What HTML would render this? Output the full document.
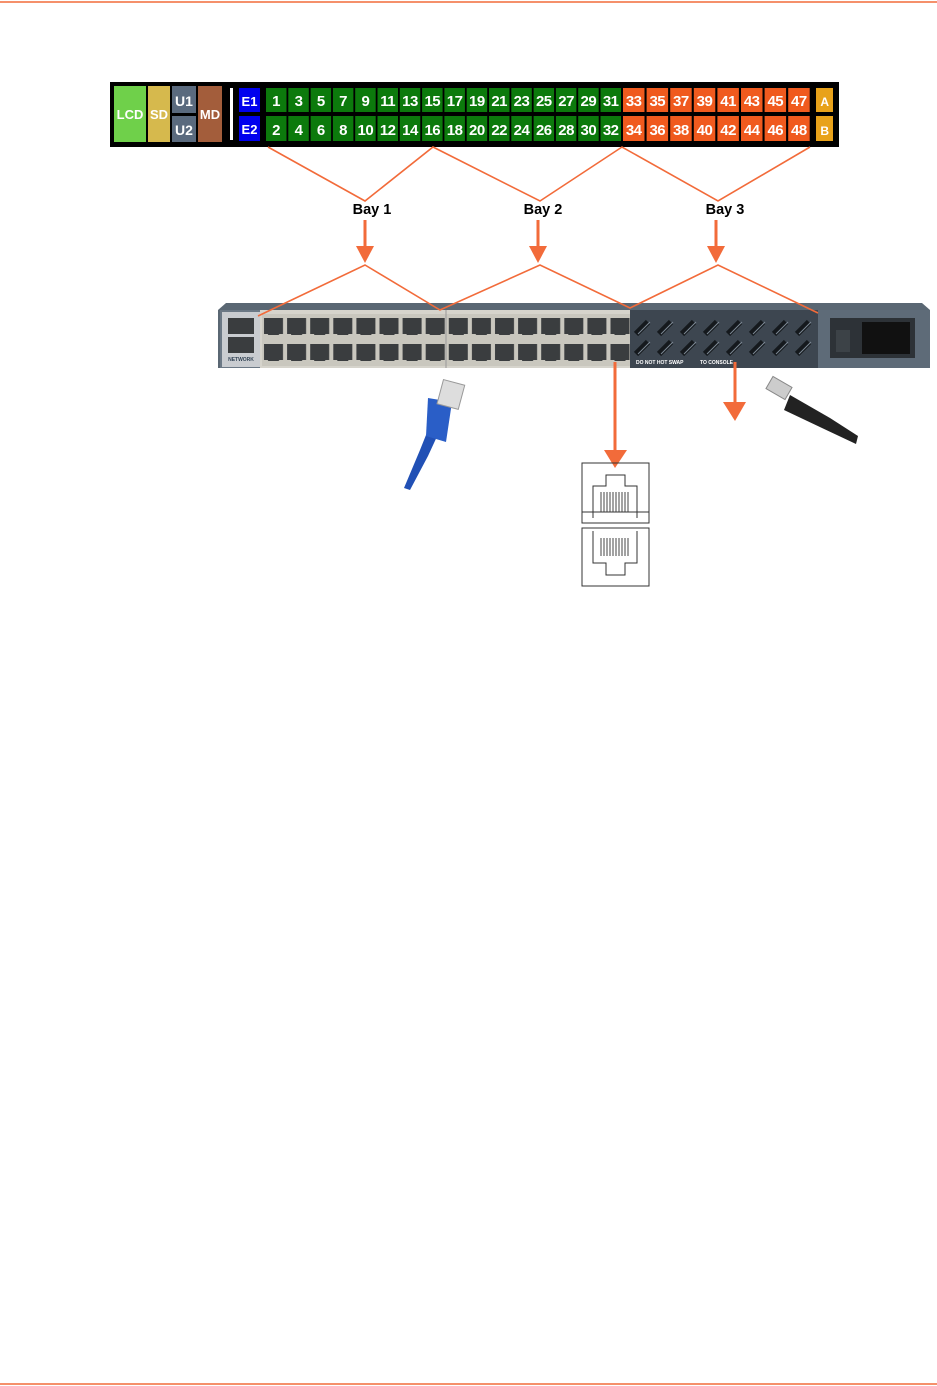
<!DOCTYPE html>
<html><head><meta charset="utf-8"><style>
html,body{margin:0;padding:0;background:#fff;}
svg{display:block;}
text{font-family:"Liberation Sans",sans-serif;font-weight:bold;}
</style></head><body>
<svg width="937" height="1386" viewBox="0 0 937 1386" xmlns="http://www.w3.org/2000/svg">
<defs>
<pattern id="port" x="262" y="314" width="23.1" height="26" patternUnits="userSpaceOnUse">
<rect x="0" y="0" width="23.1" height="26" fill="#c9c7be"/>
<rect x="2" y="4" width="19" height="16" fill="#3a3d3f"/>
<rect x="6" y="18" width="11" height="3" fill="#3a3d3f"/>
</pattern>
<pattern id="vent" x="632" y="318" width="23" height="20" patternUnits="userSpaceOnUse">
<rect width="23" height="20" fill="#3d4650"/>
<path d="M4 16 L16 4" stroke="#15191d" stroke-width="6"/>
<path d="M6 16 L18 4" stroke="#7d8a96" stroke-width="1"/>
</pattern>
</defs>
<line x1="0" y1="2" x2="937" y2="2" stroke="#f26b3a" stroke-width="1.5"/>
<line x1="0" y1="1384" x2="937" y2="1384" stroke="#f26b3a" stroke-width="1.5"/>

<rect x="110" y="82" width="729" height="65" fill="#000"/>
<rect x="114" y="86" width="32" height="56" fill="#6fd04a"/>
<text x="130" y="119" fill="#fff" font-size="13" text-anchor="middle">LCD</text>
<rect x="148" y="86" width="22" height="56" fill="#d6b94d"/>
<text x="159" y="119" fill="#fff" font-size="13" text-anchor="middle">SD</text>
<rect x="172" y="86" width="24" height="27" fill="#5a6a7e"/>
<text x="184" y="106" fill="#fff" font-size="14" text-anchor="middle">U1</text>
<rect x="172" y="116" width="24" height="26" fill="#5a6a7e"/>
<text x="184" y="135" fill="#fff" font-size="14" text-anchor="middle">U2</text>
<rect x="198" y="86" width="24" height="56" fill="#a35d3b"/>
<text x="210" y="119" fill="#fff" font-size="13" text-anchor="middle">MD</text>
<rect x="230" y="88" width="3" height="52" fill="#fff"/>
<rect x="239" y="88" width="21" height="24" fill="#0000ee"/>
<text x="249.5" y="106" fill="#fff" font-size="13" text-anchor="middle">E1</text>
<rect x="239" y="116" width="21" height="25" fill="#0000ee"/>
<text x="249.5" y="134" fill="#fff" font-size="13" text-anchor="middle">E2</text>
<g fill="#0c7a0c">
<rect x="266" y="88" width="20.5" height="24"/><rect x="288.3" y="88" width="20.5" height="24"/><rect x="310.6" y="88" width="20.5" height="24"/><rect x="332.9" y="88" width="20.5" height="24"/><rect x="355.2" y="88" width="20.5" height="24"/><rect x="377.5" y="88" width="20.5" height="24"/><rect x="399.8" y="88" width="20.5" height="24"/><rect x="422.1" y="88" width="20.5" height="24"/><rect x="444.4" y="88" width="20.5" height="24"/><rect x="466.7" y="88" width="20.5" height="24"/><rect x="489" y="88" width="20.5" height="24"/><rect x="511.3" y="88" width="20.5" height="24"/><rect x="533.6" y="88" width="20.5" height="24"/><rect x="555.9" y="88" width="20.5" height="24"/><rect x="578.2" y="88" width="20.5" height="24"/><rect x="600.5" y="88" width="20.5" height="24"/>
<rect x="266" y="116" width="20.5" height="25"/><rect x="288.3" y="116" width="20.5" height="25"/><rect x="310.6" y="116" width="20.5" height="25"/><rect x="332.9" y="116" width="20.5" height="25"/><rect x="355.2" y="116" width="20.5" height="25"/><rect x="377.5" y="116" width="20.5" height="25"/><rect x="399.8" y="116" width="20.5" height="25"/><rect x="422.1" y="116" width="20.5" height="25"/><rect x="444.4" y="116" width="20.5" height="25"/><rect x="466.7" y="116" width="20.5" height="25"/><rect x="489" y="116" width="20.5" height="25"/><rect x="511.3" y="116" width="20.5" height="25"/><rect x="533.6" y="116" width="20.5" height="25"/><rect x="555.9" y="116" width="20.5" height="25"/><rect x="578.2" y="116" width="20.5" height="25"/><rect x="600.5" y="116" width="20.5" height="25"/>
</g>
<g fill="#f05a1e">
<rect x="623" y="88" width="21.5" height="24"/><rect x="646.6" y="88" width="21.5" height="24"/><rect x="670.2" y="88" width="21.5" height="24"/><rect x="693.8" y="88" width="21.5" height="24"/><rect x="717.4" y="88" width="21.5" height="24"/><rect x="741" y="88" width="21.5" height="24"/><rect x="764.6" y="88" width="21.5" height="24"/><rect x="788.2" y="88" width="21.5" height="24"/>
<rect x="623" y="116" width="21.5" height="25"/><rect x="646.6" y="116" width="21.5" height="25"/><rect x="670.2" y="116" width="21.5" height="25"/><rect x="693.8" y="116" width="21.5" height="25"/><rect x="717.4" y="116" width="21.5" height="25"/><rect x="741" y="116" width="21.5" height="25"/><rect x="764.6" y="116" width="21.5" height="25"/><rect x="788.2" y="116" width="21.5" height="25"/>
</g>
<rect x="816" y="88" width="17" height="24" fill="#e8a21a"/>
<rect x="816" y="116" width="17" height="25" fill="#e8a21a"/>
<g fill="#fff" font-size="15" text-anchor="middle" letter-spacing="-0.5">
<text x="276" y="106">1</text><text x="298.5" y="106">3</text><text x="320.8" y="106">5</text><text x="343.1" y="106">7</text><text x="365.4" y="106">9</text><text x="387.7" y="106">11</text><text x="410" y="106">13</text><text x="432.3" y="106">15</text><text x="454.6" y="106">17</text><text x="476.9" y="106">19</text><text x="499.2" y="106">21</text><text x="521.5" y="106">23</text><text x="543.8" y="106">25</text><text x="566.1" y="106">27</text><text x="588.4" y="106">29</text><text x="610.7" y="106">31</text>
<text x="276" y="135">2</text><text x="298.5" y="135">4</text><text x="320.8" y="135">6</text><text x="343.1" y="135">8</text><text x="365.4" y="135">10</text><text x="387.7" y="135">12</text><text x="410" y="135">14</text><text x="432.3" y="135">16</text><text x="454.6" y="135">18</text><text x="476.9" y="135">20</text><text x="499.2" y="135">22</text><text x="521.5" y="135">24</text><text x="543.8" y="135">26</text><text x="566.1" y="135">28</text><text x="588.4" y="135">30</text><text x="610.7" y="135">32</text>
<text x="633.7" y="106">33</text><text x="657.3" y="106">35</text><text x="680.9" y="106">37</text><text x="704.5" y="106">39</text><text x="728.1" y="106">41</text><text x="751.7" y="106">43</text><text x="775.3" y="106">45</text><text x="798.9" y="106">47</text>
<text x="633.7" y="135">34</text><text x="657.3" y="135">36</text><text x="680.9" y="135">38</text><text x="704.5" y="135">40</text><text x="728.1" y="135">42</text><text x="751.7" y="135">44</text><text x="775.3" y="135">46</text><text x="798.9" y="135">48</text>
<text x="824.5" y="106" font-size="12">A</text><text x="824.5" y="135" font-size="12">B</text>
</g>

<path d="M218 310 L226 303 L922 303 L930 310 L930 368 L218 368 Z" fill="#5a6773"/>
<rect x="220" y="310" width="708" height="58" fill="#6b7885"/>
<rect x="222" y="312" width="38" height="55" fill="#c9ccd0"/>
<rect x="228" y="318" width="26" height="16" fill="#3a3d3f"/>
<rect x="228" y="337" width="26" height="16" fill="#3a3d3f"/>
<text x="241" y="361" font-size="5" fill="#345" text-anchor="middle" font-weight="normal">NETWORK</text>
<rect x="260" y="310" width="370" height="58" fill="#d6d4cc"/>
<rect x="262" y="314" width="369.6" height="52" fill="url(#port)"/>
<line x1="446" y1="310" x2="446" y2="368" stroke="#999" stroke-width="1"/>
<rect x="630" y="310" width="188" height="58" fill="#3d4650"/>
<rect x="632" y="318" width="184" height="40" fill="url(#vent)"/>
<text x="700" y="364" font-size="5" fill="#fff" font-weight="bold">TO CONSOLE</text>
<text x="636" y="364" font-size="5" fill="#fff" font-weight="bold">DO NOT HOT SWAP</text>
<rect x="818" y="310" width="112" height="58" fill="#5e6b78"/>
<rect x="830" y="318" width="85" height="40" fill="#2d3237"/>
<rect x="836" y="330" width="14" height="22" fill="#3c4247"/>
<rect x="862" y="322" width="48" height="32" fill="#111"/>

<g stroke="#f26b3a" stroke-width="1.6" fill="none">
<polyline points="268,147 365,201 433,147 540,201 622,147 718,201 810,147"/>
<polyline points="258,316 365,265 440,310 540,265 630,308 718,265 818,313"/>
</g>
<g fill="#000" font-size="14.5" text-anchor="middle">
<text x="372" y="214">Bay 1</text><text x="543" y="214">Bay 2</text><text x="725" y="214">Bay 3</text>
</g>
<g stroke="#f26b3a" stroke-width="3"><line x1="365" y1="220" x2="365" y2="248"/><line x1="538" y1="220" x2="538" y2="248"/><line x1="716" y1="220" x2="716" y2="248"/>
<line x1="615" y1="362" x2="615" y2="455"/><line x1="735" y1="362" x2="735" y2="405"/></g>
<g fill="#f26b3a">
<polygon points="356,246 374,246 365,263"/><polygon points="529,246 547,246 538,263"/><polygon points="707,246 725,246 716,263"/>
<polygon points="604,450 627,450 615,468"/><polygon points="723,402 746,402 735,421"/>
</g>

<g>
<path d="M404 488 L420 450 L430 425 L440 430 L428 456 L410 490 Z" fill="#2150b5"/>
<path d="M428 398 L452 402 L446 442 L426 436 Z" fill="#2a5ec7"/>
<rect x="440" y="382" width="22" height="25" transform="rotate(15 451 394)" fill="#ddd" stroke="#999"/>
</g>
<g>
<path d="M790 395 L830 418 L858 436 L856 444 L822 428 L784 410 Z" fill="#222"/>
<rect x="768" y="381" width="22" height="14" transform="rotate(30 779 388)" fill="#ccc" stroke="#888"/>
</g>
<g fill="none" stroke="#333" stroke-width="1">
<rect x="582" y="463" width="67" height="60"/>
<path d="M593 518 L593 486 L606 486 L606 475 L625 475 L625 486 L637 486 L637 518"/>
<line x1="582" y1="512" x2="649" y2="512"/>
<rect x="582" y="528" width="67" height="58"/>
<path d="M593 531 L593 563 L606 563 L606 575 L625 575 L625 563 L637 563 L637 531"/>
</g>
<g stroke="#444" stroke-width="1">
<path d="M601 492v20M604 492v20M607 492v20M610 492v20M613 492v20M616 492v20M619 492v20M622 492v20M625 492v20M628 492v20"/>
<path d="M601 538v18M604 538v18M607 538v18M610 538v18M613 538v18M616 538v18M619 538v18M622 538v18M625 538v18M628 538v18"/>
</g>
</svg>
</body></html>
